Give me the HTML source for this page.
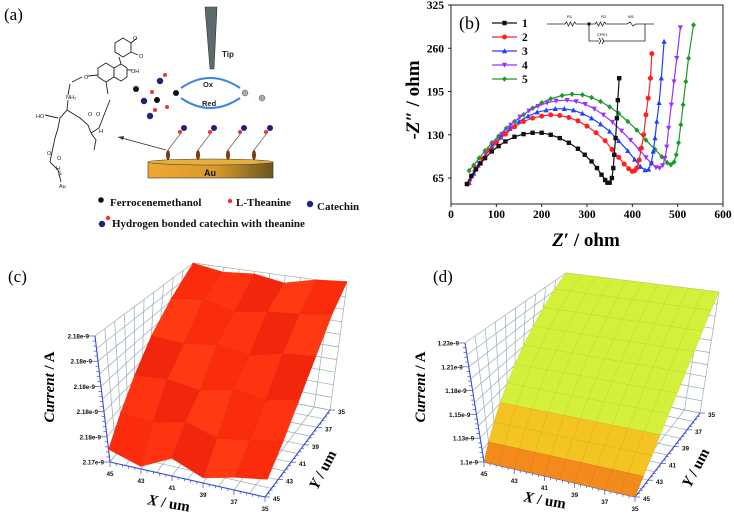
<!DOCTYPE html>
<html><head><meta charset="utf-8">
<style>
html,body{margin:0;padding:0;background:#fff;}
svg{display:block;}
.serif{font-family:"Liberation Serif",serif;}
.sans{font-family:"Liberation Sans",sans-serif;}
</style></head>
<body>
<svg id="fig" width="734" height="520" viewBox="0 0 734 520" xmlns="http://www.w3.org/2000/svg">
<defs>
<linearGradient id="auGrad" x1="0" x2="1" y1="0" y2="0">
<stop offset="0" stop-color="#f2a630"/><stop offset="0.55" stop-color="#d69a2a"/><stop offset="1" stop-color="#6b5520"/>
</linearGradient>
</defs>

<!-- Panel (a) -->
<g>
<text x="4" y="20" class="serif" font-size="17">(a)</text>
<g stroke="#222" stroke-width="0.9" fill="none">
<polygon points="123,38 131,43 131,52 123,57 115,52 115,43"/>
<line x1="131" y1="43" x2="137" y2="38"/><line x1="131" y1="52" x2="138" y2="55"/>
<polygon points="98,68 106,63 114,68 114,77 106,82 98,77"/>
<polygon points="114,68 121,64 127,68 127,77 121,81 114,77"/>
<line x1="121" y1="64" x2="119" y2="57"/><line x1="127" y1="70" x2="132" y2="70"/>
<line x1="98" y1="75" x2="88" y2="76"/><line x1="106" y1="82" x2="108" y2="94"/>
<path d="M82,77 L72,82 M70,84 L68,95 M68,100 L67,110 L60,118 L58,128 L55,138 L52,152 L50,162 L58,170 L61,182"/>
<path d="M67,110 L80,118 L88,125 L91,133 M91,133 L99,128 L104,115 L110,100"/>
<path d="M91,133 L96,140 L94,150"/>
<path d="M58,118 L45,115"/>
</g>
<g class="sans" font-size="5.5" fill="#222">
<text x="133" y="40">O</text><text x="139" y="58">O</text><text x="131" y="73">OH</text><text x="84" y="79">O</text>
<text x="66" y="99">NH₂</text><text x="36" y="118">HO</text><text x="96" y="116">O</text><text x="88" y="116">O</text>
<text x="57" y="160">O</text><text x="56" y="170">H</text><text x="47" y="155">O</text><text x="58" y="175">S</text><text x="59" y="188">Au</text><text x="99" y="133">H</text>
</g>
<line x1="166" y1="150" x2="118" y2="137" stroke="#333" stroke-width="0.8"/>
<polygon points="118,137 124,136 123,140" fill="#333"/>
<polygon points="205,7 217,7 214,69 210,69" fill="#5c6a6c" stroke="#333" stroke-width="0.6"/>
<text x="222" y="57" class="sans" font-size="8" font-weight="bold" fill="#222">Tip</text>
<g fill="none" stroke="#3b82e6" stroke-width="2">
<path d="M181,88 Q210,68 240,88"/><path d="M240,98 Q210,118 181,98"/>
</g>
<text x="203" y="87" class="sans" font-size="7.5" font-weight="bold" fill="#222">Ox</text>
<text x="202" y="106" class="sans" font-size="7.5" font-weight="bold" fill="#222">Red</text>
<g>
<circle cx="176" cy="93" r="3" fill="#111"/><circle cx="245" cy="93" r="3" fill="#aaa" stroke="#555" stroke-width="0.5"/><circle cx="262" cy="98" r="3" fill="#aaa" stroke="#555" stroke-width="0.5"/>
<circle cx="136" cy="89" r="3" fill="#111"/><circle cx="157" cy="100" r="3" fill="#111"/>
<circle cx="144" cy="101" r="3.2" fill="#1a237e"/><circle cx="150" cy="116" r="3.2" fill="#1a237e"/><circle cx="160" cy="81" r="3.2" fill="#1a237e"/>
<circle cx="165" cy="75" r="2" fill="#e33"/><circle cx="152" cy="92" r="2" fill="#e33"/><circle cx="155" cy="110" r="2" fill="#e33"/><circle cx="167" cy="107" r="2" fill="#e33"/>
</g>
<g>
<rect x="148" y="162" width="125" height="16" fill="url(#auGrad)" stroke="#333" stroke-width="0.6"/>
<ellipse cx="210.5" cy="162" rx="62.5" ry="3" fill="#e6b040" stroke="#333" stroke-width="0.6"/>
<text x="210" y="176" text-anchor="middle" class="sans" font-size="9" font-weight="bold" fill="#111">Au</text>
</g>
<g>
<g transform="translate(168,0)"><ellipse cx="0" cy="155" rx="2" ry="5" fill="#7a3a16"/><line x1="0" y1="150" x2="13" y2="133" stroke="#666" stroke-width="0.8"/><circle cx="12" cy="132" r="2" fill="#e33"/><circle cx="16" cy="128" r="3" fill="#1a237e"/></g>
<g transform="translate(198,0)"><ellipse cx="0" cy="155" rx="2" ry="5" fill="#7a3a16"/><line x1="0" y1="150" x2="13" y2="133" stroke="#666" stroke-width="0.8"/><circle cx="12" cy="132" r="2" fill="#e33"/><circle cx="16" cy="128" r="3" fill="#1a237e"/></g>
<g transform="translate(228,0)"><ellipse cx="0" cy="155" rx="2" ry="5" fill="#7a3a16"/><line x1="0" y1="150" x2="13" y2="133" stroke="#666" stroke-width="0.8"/><circle cx="12" cy="132" r="2" fill="#e33"/><circle cx="16" cy="128" r="3" fill="#1a237e"/></g>
<g transform="translate(254,0)"><ellipse cx="0" cy="155" rx="2" ry="5" fill="#7a3a16"/><line x1="0" y1="150" x2="13" y2="133" stroke="#666" stroke-width="0.8"/><circle cx="12" cy="132" r="2" fill="#e33"/><circle cx="16" cy="128" r="3" fill="#1a237e"/></g>
</g>
<g>
<circle cx="101" cy="200" r="2.8" fill="#111"/><text x="110" y="206" font-family="Liberation Serif, serif" font-size="11" font-weight="bold" fill="#111">Ferrocenemethanol</text>
<circle cx="230" cy="201" r="2.2" fill="#e33"/><text x="236" y="206" font-family="Liberation Serif, serif" font-size="11" font-weight="bold" fill="#111">L-Theanine</text>
<circle cx="310" cy="204" r="3.2" fill="#1a237e"/><text x="317" y="210" font-family="Liberation Serif, serif" font-size="11" font-weight="bold" fill="#111">Catechin</text>
<circle cx="102" cy="224" r="3.2" fill="#1a237e"/><circle cx="108" cy="218" r="2.2" fill="#e33"/><text x="112" y="227" font-family="Liberation Serif, serif" font-size="11" font-weight="bold" fill="#111">Hydrogen bonded catechin with theanine</text>
</g>
</g>

<!-- Panel (b) -->
<g id="panelB"></g>
<!-- Panel (c) -->
<g id="panelC"></g>
<!-- Panel (d) -->
<g id="panelD"></g>
</svg>

<script>
// ===== Panel (b) data =====
const bXTicks = [0,100,200,300,400,500,600];
const bYTicks = [65,130,195,260,325];
const bSeriesNames = ["1","2","3","4","5"];
const bColors = ["#111111","#ff2020","#1e40ff","#9b30ff","#1a9a2a"];
const bSeries1 = [[35,56],[45,68],[55,78],[65,87],[75,95],[90,105],[105,113],[120,120],[140,127],[160,131],[180,133],[200,133],[220,130],[240,125],[260,118],[280,109],[295,100],[310,90],[322,80],[332,70],[340,62],[345,58],[350,58],[355,65],[358,80],[360,100],[363,125],[366,155],[368,182],[371,215]];
const bSeries2 = [[37,56],[45,68],[55,80],[70,94],[85,107],[100,118],[120,131],[140,142],[160,150],[180,155],[200,158],[220,160],[240,159],[260,156],[280,151],[300,143],[320,133],[340,121],[355,108],[370,96],[382,86],[392,79],[400,75],[405,76],[410,80],[415,92],[420,110],[425,130],[430,160],[435,185],[440,215],[443,252]];
const bSeries3 = [[40,58],[50,72],[60,84],[75,98],[90,112],[110,126],[130,139],[150,150],[170,158],[190,164],[210,167],[230,169],[250,169],[270,167],[290,162],[310,155],[330,146],[350,135],[370,121],[390,106],[405,93],[418,82],[428,77],[436,78],[442,88],[446,105],[450,125],[454,150],[459,178],[464,215],[470,270]];
const bSeries4 = [[42,60],[52,74],[62,87],[77,101],[92,116],[112,131],[132,145],[152,157],[172,166],[192,173],[212,178],[232,181],[256,182],[276,180],[296,176],[316,169],[336,160],[356,149],[376,136],[396,122],[415,108],[430,96],[442,87],[452,81],[460,80],[467,84],[472,95],[476,112],[480,140],[486,175],[492,210],[498,245],[506,291]];
const bSeries5 = [[40,76],[50,84],[62,95],[75,106],[90,118],[105,128],[122,140],[140,150],[160,160],[180,170],[200,178],[220,184],[245,189],[267,191],[290,190],[310,186],[330,180],[350,172],[370,162],[390,150],[410,137],[430,122],[450,108],[465,97],[477,88],[485,85],[492,89],[497,100],[502,118],[507,145],[512,175],[518,210],[524,245],[535,295]];

// ===== Panel (c) data =====
const cXTicks = [45,43,41,39,37,35];
const cYTicks = [35,37,39,41,43,45];
const cZTickValues = [2.1745,2.1755,2.1765,2.1775,2.1785,2.1795];
const cZTickLabels = ["2.17e-9","2.18e-9","2.18e-9","2.18e-9","2.18e-9","2.18e-9"];
const cRowY45 = [2.1750,2.1746,2.1752,2.1747,2.1750,2.1752];
const cRowY43 = [2.1758,2.1757,2.1760,2.1756,2.1758,2.1760];
const cRowY41 = [2.1767,2.1768,2.1766,2.1769,2.1767,2.1770];
const cRowY39 = [2.1777,2.1776,2.1778,2.1776,2.1779,2.1780];
const cRowY37 = [2.1786,2.1788,2.1785,2.1787,2.1788,2.1790];
const cRowY35 = [2.1795,2.1793,2.1794,2.1792,2.1795,2.1796];

// ===== Panel (d) data =====
const dXTicks = [45,43,41,39,37,35];
const dYTicks = [35,37,39,41,43,45];
const dZTickValues = [1.100,1.1255,1.151,1.1765,1.202,1.2275];
const dZTickLabels = ["1.1e-9","1.13e-9","1.15e-9","1.18e-9","1.21e-9","1.23e-9"];
const dYGrid = [45,44,43,42,41,40,39,38,37,36,35];
const dRowValues = [1.100,1.113,1.126,1.139,1.152,1.165,1.178,1.191,1.204,1.217,1.2275];

const NS = "http://www.w3.org/2000/svg";
function mk(parent, tag, attrs, text){
  const e = document.createElementNS(NS, tag);
  for (const k in attrs) e.setAttribute(k, attrs[k]);
  if (text !== undefined) e.textContent = text;
  parent.appendChild(e);
  return e;
}

// ---------- Panel B ----------
(function(){
  const g = document.getElementById('panelB');
  const X0=451, X1=723, Y0=204, Yt=5;
  const xMin=0,xMax=600, yMin=26,yMax=325;
  const sx = v => X0 + (v-xMin)/(xMax-xMin)*(X1-X0);
  const sy = v => Y0 - (v-yMin)/(yMax-yMin)*(Y0-Yt);
  const frame = mk(g,'rect',{x:X0,y:Yt,width:X1-X0,height:Y0-Yt,fill:'none',stroke:'#222','stroke-width':1});
  
  
  bXTicks.forEach(t=>{
    mk(g,'line',{x1:sx(t),x2:sx(t),y1:Y0,y2:Y0+3,stroke:'#222'});
    const l = mk(g,'text',{x:sx(t),y:Y0+14,'text-anchor':'middle','font-size':11.5,'font-weight':'bold',class:'serif'},String(t));
    
    
  });
  bYTicks.forEach(t=>{
    mk(g,'line',{x1:X0,x2:X0-3,y1:sy(t),y2:sy(t),stroke:'#222'});
    const l = mk(g,'text',{x:X0-7,y:sy(t)+4,'text-anchor':'end','font-size':11.5,'font-weight':'bold',class:'serif'},String(t));
    
    
  });
  const xt = mk(g,'text',{x:586,y:246,'text-anchor':'middle','font-size':19,'font-weight':'bold',class:'serif'});
  xt.innerHTML = '<tspan font-style="italic">Z</tspan>′ / ohm';
  
  
  const yt = mk(g,'text',{x:0,y:0,'text-anchor':'middle','font-size':19,'font-weight':'bold',class:'serif',transform:'translate(419,100) rotate(-90)'});
  yt.innerHTML = '-<tspan font-style="italic">Z</tspan>″ / ohm';
  
  
  const pl = mk(g,'text',{x:459,y:29,'font-size':18,class:'serif'},'(b)');
  
  

  const all = [bSeries1,bSeries2,bSeries3,bSeries4,bSeries5];
  const markers = ['square','circle','tri','tridown','diamond'];
  function marker(parent,type,x,y,c){
    const r=2.2;
    if(type==='square') return mk(parent,'rect',{x:x-r,y:y-r,width:2*r,height:2*r,fill:c});
    if(type==='circle') return mk(parent,'circle',{cx:x,cy:y,r:r+0.3,fill:c});
    if(type==='tri') return mk(parent,'polygon',{points:`${x},${y-r-0.6} ${x+r+0.4},${y+r} ${x-r-0.4},${y+r}`,fill:c});
    if(type==='tridown') return mk(parent,'polygon',{points:`${x},${y+r+0.6} ${x+r+0.4},${y-r} ${x-r-0.4},${y-r}`,fill:c});
    return mk(parent,'polygon',{points:`${x},${y-r-0.6} ${x+r+0.3},${y} ${x},${y+r+0.6} ${x-r-0.3},${y}`,fill:c});
  }
  for (let i=all.length-1;i>=0;i--){
    const s = mk(g,'g',{});
    
    
    const pts = all[i].map(p=>sx(p[0]).toFixed(1)+','+sy(p[1]).toFixed(1)).join(' ');
    mk(s,'polyline',{points:pts,fill:'none',stroke:bColors[i],'stroke-width':1.2});
    all[i].forEach(p=>marker(s,markers[i],sx(p[0]),sy(p[1]),bColors[i]));
  }
  const lg = mk(g,'g',{});
  
  
  const rows=[23,37,51,65,79];
  bSeriesNames.forEach((n,i)=>{
    const e = mk(lg,'g',{});
    
    
    mk(e,'line',{x1:492,x2:517,y1:rows[i],y2:rows[i],stroke:bColors[i],'stroke-width':1.3});
    marker(e,markers[i],504.5,rows[i],bColors[i]);
    mk(e,'text',{x:522,y:rows[i]+4,'font-size':11.5,'font-weight':'bold',class:'serif'},n);
  });
  const ci = mk(g,'g',{fill:'none',stroke:'#222','stroke-width':0.8});
  
  
  mk(ci,'path',{d:'M547,24 L565,24 l1.5,-2 l2,4 l2,-4 l2,4 l2,-4 l1.5,2 L589,24 L595,24 l1.5,-2 l2,4 l2,-4 l2,4 l2,-4 l1.5,2 L627,24 l3,-2 l3,4 l3,-2 L654,24'});
  mk(ci,'path',{d:'M589,24 L589,41 L599,41 M603,41 L645,41 L645,24'});
  mk(ci,'path',{d:'M599,38 l2,3 l-2,3 M602,38 l2,3 l-2,3'});
  mk(ci,'circle',{cx:589,cy:24,r:1.3,fill:'#222'});
  [['R1',567,18],['R2',601,18],['W1',628,18],['CPE1',597,36]].forEach(t=>mk(g,'text',{x:t[1],y:t[2],'font-size':4,class:'sans'},t[0]));
})();

// ---------- 3D helpers ----------
function makeProj(c){
  return function(u,v,w){
    let x=0,y=0;
    for (const a of [0,1]) for (const b of [0,1]) for (const d of [0,1]){
      const wt=(a?u:1-u)*(b?v:1-v)*(d?w:1-w);
      const p=c[''+a+b+d]; x+=wt*p[0]; y+=wt*p[1];
    }
    return [x,y];
  };
}
function pstr(a){return a.map(p=>p[0].toFixed(1)+','+p[1].toFixed(1)).join(' ');}

function drawBox(g,P,xTicks,yTicks,zVals,zLabels,zMin,zMax,opt){
  const grid = mk(g,'g',{stroke:'#98acb3','stroke-width':0.7,fill:'none'});
  
  
  const N=10;
  for(let i=0;i<=N;i++){
    const f=i/N;
    mk(grid,'polyline',{points:pstr([P(f,1,0),P(f,1,1)])});
    mk(grid,'polyline',{points:pstr([P(0,1,f),P(1,1,f)])});
    mk(grid,'polyline',{points:pstr([P(0,f,0),P(0,f,1)])});
    mk(grid,'polyline',{points:pstr([P(0,0,f),P(0,1,f)])});
    mk(grid,'polyline',{points:pstr([P(f,0,0),P(f,1,0)])});
    mk(grid,'polyline',{points:pstr([P(0,f,0),P(1,f,0)])});
  }
  const ax = mk(g,'g',{stroke:'#3a4fd6','stroke-width':1.1,fill:'none'});
  
  
  mk(ax,'polyline',{points:pstr([P(0,0,0),P(0,0,1)])});
  mk(ax,'polyline',{points:pstr([P(0,0,0),P(1,0,0)])});
  mk(ax,'polyline',{points:pstr([P(1,0,0),P(1,1,0)])});
  for(let i=0;i<=25;i++){
    const f=i/25;
    let a=P(0,0,f); mk(ax,'line',{x1:a[0],y1:a[1],x2:a[0]-(i%5?3:6),y2:a[1],'stroke-width':0.7});
    a=P(f,0,0); mk(ax,'line',{x1:a[0],y1:a[1],x2:a[0],y2:a[1]+(i%5?2.5:5),'stroke-width':0.7});
    a=P(1,f,0); mk(ax,'line',{x1:a[0],y1:a[1],x2:a[0]+(i%5?2.5:5),y2:a[1],'stroke-width':0.7});
  }
  const lab = mk(g,'g',{class:'sans','font-size':6.3,'font-weight':'bold',fill:'#111'});
  
  
  zVals.forEach((v,i)=>{
    const a=P(0,0,(v-zMin)/(zMax-zMin));
    const t=mk(lab,'text',{x:a[0]-6,y:a[1]+2.5,'text-anchor':'end'},zLabels[i]);
    
    
  });
  xTicks.forEach(v=>{
    const a=P((45-v)/10,0,0);
    const t=mk(lab,'text',{x:a[0],y:a[1]+14,'text-anchor':'middle'},String(v));
    
    
  });
  yTicks.forEach(v=>{
    const a=P(1,(45-v)/10,0);
    const t=mk(lab,'text',{x:a[0]+8,y:a[1]+4},String(v));
    
    
  });
  const zt=mk(g,'text',{x:0,y:0,'text-anchor':'middle','font-size':15,'font-weight':'bold',class:'serif',transform:`translate(${opt.zt[0]},${opt.zt[1]}) rotate(-90)`});
  zt.innerHTML='<tspan font-style="italic">Current</tspan> / A';
  
  
  const xt=mk(g,'text',{x:0,y:0,'text-anchor':'middle','font-size':15,'font-weight':'bold',class:'serif',transform:`translate(${opt.xt[0]},${opt.xt[1]}) rotate(10)`});
  xt.innerHTML='<tspan font-style="italic">X</tspan> / um';
  
  
  const yt=mk(g,'text',{x:0,y:0,'text-anchor':'middle','font-size':15,'font-weight':'bold',class:'serif',transform:`translate(${opt.yt[0]},${opt.yt[1]}) rotate(-62)`});
  yt.innerHTML='<tspan font-style="italic">Y</tspan> / um';
  
  
}

// ---------- Panel C ----------
(function(){
  const g=document.getElementById('panelC');
  const P=makeProj({'000':[110,462],'100':[265,497],'010':[172,380],'110':[330,410],
                    '001':[95,336],'101':[282,371],'011':[193,263],'111':[347,284]});
  const zMin=cZTickValues[0], zMax=cZTickValues[cZTickValues.length-1];
  drawBox(g,P,cXTicks,cYTicks,cZTickValues,cZTickLabels,zMin,zMax,{zt:[54,387],xt:[168,508],yt:[327,472]});
  const rows=[cRowY45,cRowY43,cRowY41,cRowY39,cRowY37,cRowY35];
  const surf=mk(g,'g',{});
  
  
  const n=rows[0].length;
  for(let j=rows.length-2;j>=0;j--){
    for(let i=0;i<n-1;i++){
      const q=[[i,j],[i+1,j],[i+1,j+1],[i,j+1]].map(a=>P(a[0]/(n-1),a[1]/(rows.length-1),(rows[a[1]][a[0]]-zMin)/(zMax-zMin)));
      const shade=['#fa2c0c','#ff330f','#f2260c','#ff3a12'][(i+j)%4];
      const c=mk(surf,'polygon',{points:pstr(q),fill:shade,stroke:'#e0220a','stroke-width':0.3});
      
      
    }
  }
  const pl=mk(g,'text',{x:8,y:282,'font-size':17,class:'serif'},'(c)');
  
  
})();

// ---------- Panel D ----------
(function(){
  const g=document.getElementById('panelD');
  const P=makeProj({'000':[484,462],'100':[635,497],'010':[545,382],'110':[700,413],
                    '001':[465,343],'101':[654,376],'011':[566,273],'111':[719,292]});
  const zMin=dZTickValues[0], zMax=dZTickValues[dZTickValues.length-1];
  drawBox(g,P,dXTicks,dYTicks,dZTickValues,dZTickLabels,zMin,zMax,{zt:[425,387],xt:[544,505],yt:[700,470]});
  const surf=mk(g,'g',{});
  
  
  const nx=11, ny=dYGrid.length;
  for(let j=ny-2;j>=0;j--){
    const avg=(dRowValues[j]+dRowValues[j+1])/2;
    const col = avg<1.113?'#f28a1c':(avg<1.145?'#f4c423':'#d4f03a');
    const sc = avg<1.113?'#d77414':(avg<1.145?'#d9a818':'#b8d432');
    for(let i=0;i<nx-1;i++){
      const q=[[i,j],[i+1,j],[i+1,j+1],[i,j+1]].map(a=>P(a[0]/(nx-1),(45-dYGrid[a[1]])/10,(dRowValues[a[1]]-zMin)/(zMax-zMin)));
      const c=mk(surf,'polygon',{points:pstr(q),fill:col,stroke:sc,'stroke-width':0.4});
      
      
    }
  }
  const pl=mk(g,'text',{x:433,y:282,'font-size':17,class:'serif'},'(d)');
  
  
})();
</script>
</body></html>
